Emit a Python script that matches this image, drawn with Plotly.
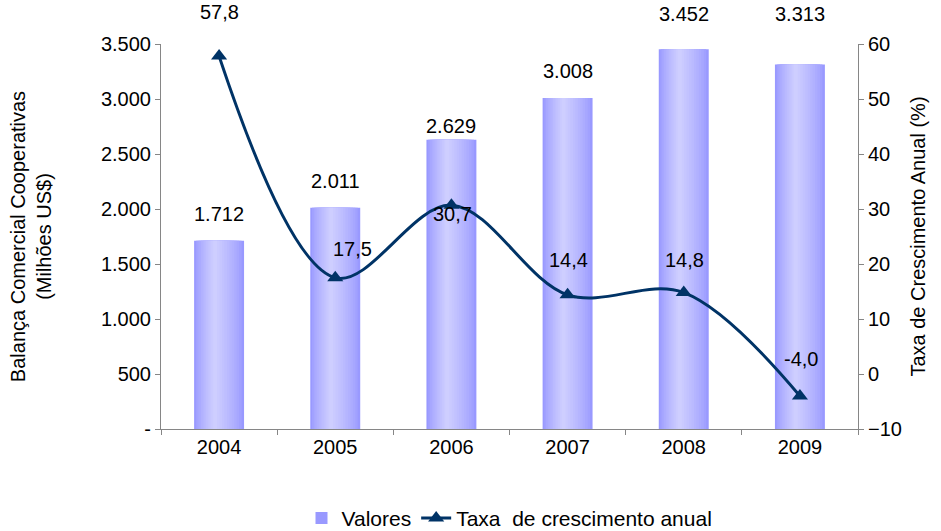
import plotly.graph_objects as go

years = ["2004", "2005", "2006", "2007", "2008", "2009"]
valores = [1712, 2011, 2629, 3008, 3452, 3313]
valores_lbl = ["1.712", "2.011", "2.629", "3.008", "3.452", "3.313"]
taxa = [57.8, 17.5, 30.7, 14.4, 14.8, -4.0]
taxa_lbl = ["57,8", "17,5", "30,7", "14,4", "14,8", "-4,0"]
left_ticks = [0, 500, 1000, 1500, 2000, 2500, 3000, 3500]
left_ticktext = ["-", "500", "1.000", "1.500", "2.000", "2.500", "3.000", "3.500"]

FONT = "Liberation Sans, Arial, sans-serif"
NAVY = "#003366"
FS = 20

fig = go.Figure()

# gradient bars via overlaid layers
N = 12
W = 0.43
c0 = (153, 153, 255)
c1 = (206, 206, 255)
for i in range(N):
    t = i / (N - 1)
    w = W * (1 - 0.92 * t)
    col = tuple(int(round(c0[k] + (c1[k] - c0[k]) * (t ** 0.8))) for k in range(3))
    center = -0.035 * t
    fig.add_trace(go.Bar(
        x=years, y=valores, width=w, offset=center - w / 2,
        marker=dict(color="rgb(%d,%d,%d)" % col, line=dict(width=0)),
        name="Valores", showlegend=(i == 0), hoverinfo="skip" if i else None,
        yaxis="y", legendrank=1,
    ))

fig.add_trace(go.Scatter(
    x=years, y=taxa, yaxis="y2", mode="lines+markers",
    name="Taxa  de crescimento anual",
    line=dict(color=NAVY, width=3, shape="spline", smoothing=1.0),
    marker=dict(symbol="triangle-up", size=14, color=NAVY),
    legendrank=2,
))

bar_shift = [27, 27, 14, 27, 35, 51]
for i, (v, s, dy) in enumerate(zip(valores, valores_lbl, bar_shift)):
    fig.add_annotation(x=i, y=v, xref="x", yref="y", text=s, showarrow=False,
                       yshift=dy, font=dict(size=FS, color="black", family=FONT))

line_shift = [(0, 44), (17, 29), (1, -9), (1, 35), (1, 33), (1, 37)]
for i, (v, s, (dx, dy)) in enumerate(zip(taxa, taxa_lbl, line_shift)):
    fig.add_annotation(x=i, y=v, xref="x", yref="y2", text=s, showarrow=False,
                       xshift=dx, yshift=dy, font=dict(size=FS, color="black", family=FONT))

axis_col = "#868686"
fig.update_layout(
    width=941, height=531,
    margin=dict(l=161, r=83, t=44, b=102, autoexpand=False),
    paper_bgcolor="white", plot_bgcolor="white",
    barmode="overlay",
    font=dict(family=FONT, size=FS, color="black"),
    showlegend=True,
    legend=dict(orientation="h", x=0.5, xanchor="center", y=-0.232, yanchor="middle",
                font=dict(size=FS + 1), traceorder="normal", borderwidth=0,
                bgcolor="rgba(0,0,0,0)"),
    xaxis=dict(type="category", range=[-0.5, 5.5], tickson="boundaries",
               ticks="outside", ticklen=5, tickcolor=axis_col,
               showline=True, linecolor=axis_col, linewidth=1,
               showgrid=False, tickfont=dict(size=FS), automargin=False),
    yaxis=dict(range=[0, 3500], tickvals=left_ticks, ticktext=left_ticktext,
               ticks="outside", ticklen=5, tickcolor=axis_col, automargin=False,
               showline=True, linecolor=axis_col, linewidth=1, showgrid=False,
               zeroline=False, tickfont=dict(size=FS),
               title=dict(text="Balança Comercial Cooperativas<br>(Milhões US$)",
                          font=dict(size=FS), standoff=43)),
    yaxis2=dict(range=[-10, 60], dtick=10, overlaying="y", side="right",
                ticks="outside", ticklen=5, tickcolor=axis_col, automargin=False,
                showline=True, linecolor=axis_col, linewidth=1, showgrid=False,
                zeroline=False, tickfont=dict(size=FS),
                title=dict(text="Taxa de Crescimento Anual (%)", font=dict(size=FS),
                           standoff=10)),
)

fig.write_html("out.html", config={"displayModeBar": False},
               post_script="document.body.style.margin='0';document.body.style.overflow='hidden';")
